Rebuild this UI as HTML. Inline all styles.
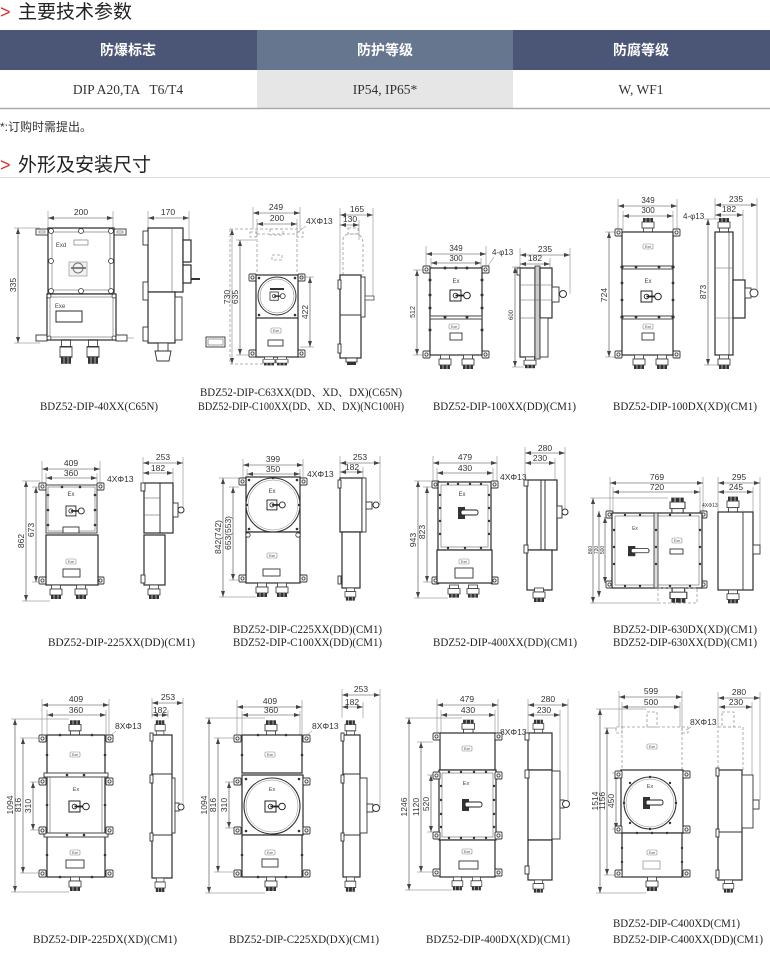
<!DOCTYPE html>
<html><head><meta charset="utf-8"><style>
html,body{margin:0;padding:0;background:#fff;width:770px;height:974px;overflow:hidden}
svg{display:block}
.o{fill:#fff;stroke:#2b2b2b;stroke-width:1.2}
.o1{fill:#fff;stroke:#333;stroke-width:.9}
.o2{fill:none;stroke:#666;stroke-width:.6}
.dl{stroke:#444;stroke-width:.6;fill:none;marker-start:url(#a);marker-end:url(#a)}
.el{stroke:#777;stroke-width:.5;fill:none}
.dsh{stroke:#9a9a9a;stroke-width:.8;stroke-dasharray:3 2;fill:none}
.t{font-family:"Liberation Sans",sans-serif;font-size:8.5px;fill:#333}
.tc{text-anchor:middle}
.sm{font-family:"Liberation Sans",sans-serif;font-size:5px;fill:#444;text-anchor:middle}
.cap{font-family:"Liberation Serif","Noto Serif CJK SC",serif;font-size:11.5px;fill:#222}
.bk{fill:#333}
.hd{font-family:"Liberation Sans","Noto Sans CJK SC",sans-serif;font-size:19px;fill:#222}
.th{font-family:"Liberation Sans","Noto Sans CJK SC",sans-serif;font-size:14px;font-weight:bold;fill:#fff;text-anchor:middle}
.td{font-family:"Liberation Serif",serif;font-size:13.5px;fill:#333;text-anchor:middle}
</style></head><body>
<svg width="770" height="974" viewBox="0 0 770 974" xmlns="http://www.w3.org/2000/svg">
<defs>
<marker id="a" markerUnits="userSpaceOnUse" markerWidth="6" markerHeight="4" refX="6" refY="2" orient="auto-start-reverse"><path d="M0,0 L6,2 L0,4z" fill="#444"/></marker>
<g id="ear"><rect x="0" y="0" width="7" height="7" rx="1" fill="#fff" stroke="#333" stroke-width=".9"/><circle cx="3.5" cy="3.5" r="1.6" fill="none" stroke="#333" stroke-width=".8"/></g>
<g id="gl"><rect x="1.5" y="0" width="9" height="4" fill="#fff" stroke="#333" stroke-width=".8"/><rect x="0" y="4" width="12" height="6" fill="#fff" stroke="#333" stroke-width=".8"/><rect x="1" y="10" width="10" height="4" fill="#333"/><line x1="4" y1="10" x2="4" y2="14" stroke="#fff" stroke-width=".6"/><line x1="8" y1="10" x2="8" y2="14" stroke="#fff" stroke-width=".6"/></g>
<g id="sw"><rect x="0" y="0" width="11" height="11" fill="#fff" stroke="#222" stroke-width="1"/><circle cx="5.5" cy="5.5" r="2.3" fill="none" stroke="#222" stroke-width=".9"/><line x1="5.5" y1="5.5" x2="15" y2="5.5" stroke="#222" stroke-width="1.8"/><circle cx="17" cy="5.5" r="3.3" fill="#fff" stroke="#222" stroke-width="1"/></g>
<g id="hd"><rect x="0" y="0" width="7" height="12" fill="#333"/><rect x="3" y="3" width="17" height="5" rx="2" fill="#fff" stroke="#222" stroke-width=".9"/></g>
<g id="lb"><rect x="0" y="0" width="10" height="5" rx="1" fill="#fff" stroke="#888" stroke-width=".6"/><text x="5" y="4" class="sm" style="font-size:3.5px">Exe</text></g>
</defs>

<!-- HEADINGS & TABLE -->
<text x="0" y="18" font-family="Liberation Sans,sans-serif" font-size="18" fill="#d9302a">&gt;</text>
<text x="18" y="18" class="hd">主要技术参数</text>
<rect x="0" y="30" width="257" height="40" fill="#4b5676"/>
<rect x="257" y="30" width="256" height="40" fill="#67768f"/>
<rect x="513" y="30" width="257" height="40" fill="#4b5676"/>
<text x="128" y="55" class="th">防爆标志</text>
<text x="385" y="55" class="th">防护等级</text>
<text x="641" y="55" class="th">防腐等级</text>
<rect x="257" y="70" width="256" height="38" fill="#e6e6e6"/>
<text x="128" y="94" class="td" xml:space="preserve">DIP A20,TA   T6/T4</text>
<text x="385" y="94" class="td">IP54, IP65*</text>
<text x="641" y="94" class="td">W, WF1</text>
<line x1="0" y1="108.5" x2="770" y2="108.5" stroke="#aaa" stroke-width="1.5"/>
<text x="0" y="131" font-family="Liberation Sans,'Noto Sans CJK SC',sans-serif" font-size="12" fill="#333">*:订购时需提出。</text>
<text x="0" y="171" font-family="Liberation Sans,sans-serif" font-size="18" fill="#d9302a">&gt;</text>
<text x="18" y="171" class="hd">外形及安装尺寸</text>
<line x1="0" y1="177.5" x2="770" y2="177.5" stroke="#ddd" stroke-width="1"/>

<!-- ============ D1 ============ -->
<line class="el" x1="48" y1="211" x2="48" y2="228"/><line class="el" x1="113" y1="211" x2="113" y2="228"/>
<line class="dl" x1="48" y1="218" x2="113" y2="218"/><text class="t tc" x="81" y="215">200</text>
<line class="el" x1="14" y1="228" x2="40" y2="228"/><line class="el" x1="14" y1="343" x2="40" y2="343"/>
<line class="dl" x1="18" y1="228" x2="18" y2="343"/><text class="t tc" transform="translate(16,285) rotate(-90)">335</text>
<rect class="o1" x="36" y="229" width="12" height="6"/><rect class="o2" x="39" y="231" width="6" height="2"/>
<rect class="o1" x="114" y="229" width="12" height="6"/><rect class="o2" x="117" y="231" width="6" height="2"/>
<rect class="o" x="48" y="228" width="66" height="66"/><rect class="o2" x="52" y="232" width="58" height="58"/>
<g fill="#fff" stroke="#333" stroke-width=".8"><circle cx="51" cy="231" r="2.5"/><circle cx="81" cy="231" r="2.5"/><circle cx="111" cy="231" r="2.5"/><circle cx="51" cy="261" r="2.5"/><circle cx="111" cy="261" r="2.5"/><circle cx="51" cy="291" r="2.5"/><circle cx="81" cy="291" r="2.5"/><circle cx="111" cy="291" r="2.5"/></g>
<text class="sm" x="61" y="247" style="font-size:6px">Exd</text><rect class="o2" x="74" y="240" width="14" height="5" stroke="#333"/>
<rect x="69" y="262" width="18" height="14" fill="#f2f2f2" stroke="#999" stroke-width=".7"/><circle cx="78" cy="268" r="5" fill="none" stroke="#777"/><line x1="71" y1="268" x2="86" y2="268" stroke="#666" stroke-width="1.6"/>
<rect class="o" x="47" y="294" width="69" height="46"/><rect class="o2" x="50" y="297" width="63" height="40"/>
<g fill="#fff" stroke="#333" stroke-width=".8"><circle cx="49" cy="296" r="2"/><circle cx="114" cy="296" r="2"/><circle cx="49" cy="338" r="2"/><circle cx="114" cy="338" r="2"/></g>
<text class="sm" x="60" y="308" style="font-size:6px">Exe</text><rect class="o" x="56" y="311" width="26" height="11" style="stroke-width:1"/>
<rect class="o1" x="36" y="335" width="11" height="6"/><rect class="o1" x="116" y="335" width="11" height="6"/>
<line class="el" x1="127" y1="338" x2="134" y2="338"/>
<use href="#gl" transform="translate(60,340) scale(1,1.7)"/><use href="#gl" transform="translate(87,340) scale(1,1.7)"/>
<!-- D1 side -->
<line class="el" x1="148" y1="211" x2="148" y2="228"/><line class="el" x1="189" y1="211" x2="189" y2="240"/>
<line class="dl" x1="148" y1="218" x2="189" y2="218"/><text class="t tc" x="168" y="215">170</text>
<rect class="o" x="148" y="228" width="35" height="64"/><line class="o2" x1="172" y1="228" x2="172" y2="292"/>
<rect class="o" x="148" y="292" width="27" height="51"/>
<rect class="o" x="183" y="240" width="8" height="22"/><rect class="o" x="183" y="265" width="8" height="18"/>
<line x1="191" y1="279" x2="200" y2="279" stroke="#333" stroke-width="2"/>
<rect class="o1" x="175" y="297" width="7" height="43"/>
<rect class="o1" x="143" y="231" width="5" height="14"/><rect class="o1" x="143" y="282" width="5" height="18"/><rect class="o1" x="143" y="327" width="5" height="14"/>
<rect class="o1" x="158" y="343" width="10" height="8"/><path d="M155,351 h16 l-2,10 h-12z" class="o1"/>
<text class="cap" x="40" y="410" textLength="118" lengthAdjust="spacingAndGlyphs">BDZ52-DIP-40XX(C65N)</text>

<!-- ============ D2 ============ -->
<line class="el" x1="253" y1="207" x2="253" y2="229"/><line class="el" x1="300" y1="207" x2="300" y2="229"/>
<line class="dl" x1="253" y1="213" x2="300" y2="213"/><text class="t tc" x="276" y="210">249</text>
<line class="el" x1="257" y1="219" x2="257" y2="234"/><line class="el" x1="297" y1="219" x2="297" y2="234"/>
<line class="dl" x1="257" y1="224" x2="297" y2="224"/><text class="t tc" x="277" y="221">200</text>
<text class="t" x="306" y="224">4XΦ13</text><line class="el" x1="298" y1="232" x2="306" y2="226"/>
<path class="dsh" d="M230,229 H302 M230,229 V364 H267 M257,234 V275 M297,234 V275 M257,234 H297"/>
<rect class="dsh" x="270" y="229" width="13" height="6"/><rect class="dsh" x="250" y="232" width="6" height="5"/><rect class="dsh" x="297" y="232" width="6" height="5"/>
<rect class="dsh" x="272" y="255" width="10" height="5"/>
<line class="dl" x1="232" y1="229" x2="232" y2="364" style="stroke:#888"/><text class="t tc" transform="translate(230,297) rotate(-90)">730</text>
<line class="el" x1="236" y1="240" x2="256" y2="240"/>
<line class="dl" x1="240" y1="240" x2="240" y2="355"/><text class="t tc" transform="translate(238,297) rotate(-90)">635</text>
<line class="el" x1="236" y1="355" x2="250" y2="355"/>
<use href="#ear" x="249" y="274"/><use href="#ear" x="298" y="274"/><use href="#ear" x="249" y="350"/><use href="#ear" x="298" y="350"/>
<rect class="o" x="256" y="275" width="42" height="82"/><line x1="256" y1="318" x2="298" y2="318" stroke="#333" stroke-width="1.2"/>
<circle cx="277" cy="296" r="19" fill="#fff" stroke="#333" stroke-width="1"/><circle cx="277" cy="296" r="17" fill="none" stroke="#777" stroke-width=".5"/>
<g class="bk"><circle cx="259" cy="278" r="1.3"/><circle cx="295" cy="278" r="1.3"/><circle cx="259" cy="315" r="1.3"/><circle cx="295" cy="315" r="1.3"/></g>
<rect x="270" y="288" width="14" height="2" fill="#333"/><use href="#sw" transform="translate(270,292) scale(.75)"/>
<use href="#lb" x="271" y="328"/><rect class="o1" x="268" y="340" width="15" height="6"/>
<use href="#gl" transform="translate(263,357) scale(1,.6)"/><use href="#gl" transform="translate(276,357) scale(1,.6)"/>
<line class="el" x1="300" y1="277" x2="314" y2="277"/><line class="el" x1="300" y1="347" x2="314" y2="347"/>
<line class="dl" x1="310" y1="277" x2="310" y2="347"/><text class="t tc" transform="translate(308,312) rotate(-90)">422</text>
<rect class="o1" x="206" y="337" width="19" height="10"/><rect class="o2" x="208" y="339" width="15" height="6"/>
<!-- D2 side -->
<line class="el" x1="340" y1="208" x2="340" y2="275"/><line class="el" x1="373" y1="208" x2="373" y2="298"/><line class="el" x1="359" y1="220" x2="359" y2="240"/>
<line class="dl" x1="340" y1="215" x2="373" y2="215"/><text class="t tc" x="357" y="212">165</text>
<line class="dl" x1="340" y1="225" x2="359" y2="225"/><text class="t tc" x="350" y="222">130</text>
<path class="dsh" d="M343,275 V240 Q343,234 350,234 H357 Q363,236 363,244 V275"/>
<rect class="dsh" x="348" y="228" width="10" height="6"/>
<rect class="o" x="340" y="275" width="21" height="83"/><line x1="340" y1="315" x2="361" y2="315" stroke="#333"/>
<rect class="o1" x="361" y="277" width="4" height="40"/><rect x="365" y="296" width="9" height="4" fill="#fff" stroke="#333" stroke-width=".7"/>
<rect class="o1" x="338" y="280" width="3" height="9"/><rect class="o1" x="338" y="344" width="3" height="9"/>
<rect class="o1" x="346" y="358" width="11" height="4"/><rect class="bk" x="347" y="362" width="9" height="3"/>
<text class="cap" x="301" y="396" text-anchor="middle" textLength="202" lengthAdjust="spacingAndGlyphs">BDZ52-DIP-C63XX(DD、XD、DX)(C65N)</text>
<text class="cap" x="301" y="410" text-anchor="middle" textLength="206" lengthAdjust="spacingAndGlyphs">BDZ52-DIP-C100XX(DD、XD、DX)(NC100H)</text>

<!-- ============ D3 ============ -->
<line class="el" x1="426" y1="246" x2="426" y2="268"/><line class="el" x1="486" y1="246" x2="486" y2="268"/>
<line class="dl" x1="426" y1="254" x2="486" y2="254"/><text class="t tc" x="456" y="251" style="font-size:8px">349</text>
<line class="el" x1="431" y1="258" x2="431" y2="268"/><line class="el" x1="481" y1="258" x2="481" y2="268"/>
<line class="dl" x1="431" y1="263" x2="481" y2="263"/><text class="t tc" x="456" y="261" style="font-size:8px">300</text>
<text class="t" x="492" y="255" style="font-size:8px">4-φ13</text><line class="el" x1="488" y1="266" x2="494" y2="257"/>
<line class="el" x1="413" y1="270" x2="423" y2="270"/><line class="el" x1="413" y1="355" x2="430" y2="355"/>
<line class="dl" x1="417" y1="270" x2="417" y2="355"/><text class="t tc" transform="translate(415,312) rotate(-90)" style="font-size:7px">512</text>
<use href="#ear" x="423" y="266"/><use href="#ear" x="482" y="266"/><use href="#ear" x="423" y="351"/><use href="#ear" x="482" y="351"/>
<rect class="o" x="430" y="268" width="52" height="87"/><rect x="430" y="316" width="52" height="3" fill="#fff" stroke="#333" stroke-width=".9"/>
<g class="bk"><circle cx="430" cy="280" r="1.5"/><circle cx="430" cy="295" r="1.5"/><circle cx="430" cy="308" r="1.5"/><circle cx="482" cy="280" r="1.5"/><circle cx="482" cy="295" r="1.5"/><circle cx="482" cy="308" r="1.5"/><circle cx="445" cy="268" r="1.5"/><circle cx="456" cy="268" r="1.5"/><circle cx="467" cy="268" r="1.5"/><circle cx="445" cy="317" r="1.5"/><circle cx="467" cy="317" r="1.5"/><circle cx="430" cy="330" r="1.5"/><circle cx="482" cy="330" r="1.5"/></g>
<text class="sm" x="456" y="283" style="font-size:6px">Ex</text>
<use href="#sw" x="450" y="290"/>
<use href="#lb" x="449" y="324"/><rect class="o1" x="450" y="333" width="12" height="7"/>
<use href="#gl" x="439" y="355"/><use href="#gl" x="462" y="355"/>
<!-- D3 side -->
<line class="el" x1="520" y1="248" x2="520" y2="268"/><line class="el" x1="570" y1="248" x2="570" y2="294"/><line class="el" x1="550" y1="258" x2="550" y2="268"/>
<line class="dl" x1="520" y1="255" x2="570" y2="255"/><text class="t tc" x="545" y="252">235</text>
<line class="dl" x1="520" y1="264" x2="550" y2="264"/><text class="t tc" x="535" y="261">182</text>
<line class="el" x1="512" y1="267" x2="520" y2="267"/><line class="el" x1="512" y1="367" x2="524" y2="367"/>
<line class="dl" x1="515" y1="267" x2="515" y2="367"/><text class="t tc" transform="translate(513,315) rotate(-90)" style="font-size:6px">600</text>
<rect class="o" x="520" y="268" width="15" height="89"/><rect x="535" y="266" width="5" height="93" fill="#ccc" stroke="#333" stroke-width=".8"/>
<rect class="o" x="540" y="268" width="12" height="50"/><rect class="o1" x="540" y="318" width="8" height="39"/>
<line class="o2" x1="520" y1="285" x2="552" y2="285"/><line class="o2" x1="520" y1="300" x2="552" y2="300"/><line class="o2" x1="520" y1="318" x2="535" y2="318"/>
<rect class="o1" x="552" y="287" width="7" height="15"/><circle cx="563" cy="294" r="3.5" fill="#fff" stroke="#333"/>
<rect class="o1" x="517" y="268" width="3" height="7"/>
<use href="#gl" transform="translate(524,357) scale(1,.8)"/>
<text class="cap" x="433" y="410" textLength="143" lengthAdjust="spacingAndGlyphs">BDZ52-DIP-100XX(DD)(CM1)</text>

<!-- ============ D4 ============ -->
<line class="el" x1="618" y1="199" x2="618" y2="230"/><line class="el" x1="677" y1="199" x2="677" y2="230"/>
<line class="dl" x1="618" y1="206" x2="677" y2="206"/><text class="t tc" x="648" y="203" style="font-size:8px">349</text>
<line class="el" x1="623" y1="211" x2="623" y2="230"/><line class="el" x1="673" y1="211" x2="673" y2="230"/>
<line class="dl" x1="623" y1="216" x2="673" y2="216"/><text class="t tc" x="648" y="213" style="font-size:8px">300</text>
<text class="t" x="683" y="219" style="font-size:8px">4-φ13</text>
<use href="#gl" transform="translate(642,232) scale(1,-1)"/>
<line class="el" x1="605" y1="232" x2="615" y2="232"/><line class="el" x1="605" y1="357" x2="615" y2="357"/>
<line class="dl" x1="609" y1="232" x2="609" y2="357"/><text class="t tc" transform="translate(607,295) rotate(-90)">724</text>
<use href="#ear" x="615" y="229"/><use href="#ear" x="673" y="229"/><use href="#ear" x="615" y="351"/><use href="#ear" x="673" y="351"/>
<rect class="o" x="622" y="232" width="51" height="123"/>
<rect x="622" y="266" width="51" height="3" fill="#fff" stroke="#333" stroke-width=".9"/><rect x="622" y="316" width="51" height="3" fill="#fff" stroke="#333" stroke-width=".9"/>
<g class="bk"><circle cx="622" cy="267" r="1.6"/><circle cx="673" cy="267" r="1.6"/><circle cx="622" cy="317" r="1.6"/><circle cx="673" cy="317" r="1.6"/><circle cx="622" cy="283" r="1.4"/><circle cx="673" cy="283" r="1.4"/><circle cx="622" cy="300" r="1.4"/><circle cx="673" cy="300" r="1.4"/><circle cx="636" cy="267" r="1.4"/><circle cx="659" cy="267" r="1.4"/><circle cx="636" cy="317" r="1.4"/><circle cx="659" cy="317" r="1.4"/></g>
<use href="#lb" x="643" y="244"/>
<text class="sm" x="648" y="283" style="font-size:6px">Ex</text>
<use href="#sw" x="641" y="291"/>
<use href="#lb" x="643" y="324"/><rect class="o1" x="642" y="333" width="12" height="7"/>
<use href="#gl" x="633" y="355"/><use href="#gl" x="656" y="355"/>
<!-- D4 side -->
<line class="el" x1="715" y1="198" x2="715" y2="219"/><line class="el" x1="757" y1="198" x2="757" y2="290"/><line class="el" x1="743" y1="210" x2="743" y2="280"/>
<line class="dl" x1="715" y1="205" x2="757" y2="205"/><text class="t tc" x="736" y="202">235</text>
<line class="dl" x1="715" y1="215" x2="743" y2="215"/><text class="t tc" x="729" y="212">182</text>
<line class="el" x1="704" y1="219" x2="720" y2="219"/><line class="el" x1="704" y1="365" x2="720" y2="365"/>
<line class="dl" x1="708" y1="219" x2="708" y2="365"/><text class="t tc" transform="translate(706,292) rotate(-90)">873</text>
<use href="#gl" transform="translate(718,232) scale(1,-1)"/>
<rect class="o" x="715" y="232" width="18" height="123"/><line class="o2" x1="729" y1="232" x2="729" y2="355" style="stroke:#333"/>
<line class="o2" x1="715" y1="268" x2="733" y2="268"/><line class="o2" x1="715" y1="318" x2="733" y2="318"/>
<rect class="o" x="733" y="280" width="12" height="38"/><rect class="o1" x="745" y="288" width="6" height="10"/><circle cx="754" cy="293" r="4" fill="#fff" stroke="#333"/>
<use href="#gl" x="718" y="355"/>
<text class="cap" x="613" y="410" textLength="144" lengthAdjust="spacingAndGlyphs">BDZ52-DIP-100DX(XD)(CM1)</text>

<!-- ============ D5 ============ -->
<line class="el" x1="42" y1="461" x2="42" y2="483"/><line class="el" x1="100" y1="461" x2="100" y2="483"/>
<line class="dl" x1="42" y1="469" x2="100" y2="469"/><text class="t tc" x="71" y="466">409</text>
<line class="el" x1="46" y1="473" x2="46" y2="485"/><line class="el" x1="97" y1="473" x2="97" y2="485"/>
<line class="dl" x1="46" y1="478" x2="97" y2="478"/><text class="t tc" x="71" y="476">360</text>
<text class="t" x="107" y="482">4XΦ13</text>
<line class="el" x1="22" y1="481" x2="40" y2="481"/><line class="el" x1="22" y1="601" x2="50" y2="601"/>
<line class="dl" x1="26" y1="481" x2="26" y2="601"/><text class="t tc" transform="translate(24,541) rotate(-90)">862</text>
<line class="el" x1="32" y1="487" x2="40" y2="487"/><line class="el" x1="32" y1="582" x2="40" y2="582"/>
<line class="dl" x1="36" y1="487" x2="36" y2="582"/><text class="t tc" transform="translate(34,530) rotate(-90)">673</text>
<use href="#ear" x="39" y="483"/><use href="#ear" x="97" y="483"/><use href="#ear" x="39" y="577"/><use href="#ear" x="97" y="577"/>
<rect class="o1" x="46" y="485" width="51" height="48"/><rect class="o2" x="48" y="487" width="47" height="44"/>
<g class="bk"><circle cx="48" cy="495" r="1.3"/><circle cx="48" cy="510" r="1.3"/><circle cx="48" cy="525" r="1.3"/><circle cx="95" cy="495" r="1.3"/><circle cx="95" cy="510" r="1.3"/><circle cx="95" cy="525" r="1.3"/><circle cx="62" cy="487" r="1.3"/><circle cx="80" cy="487" r="1.3"/></g>
<rect class="o1" x="63" y="527" width="16" height="6"/>
<text class="sm" x="71" y="496" style="font-size:6px">Ex</text>
<use href="#sw" transform="translate(66,506) scale(.9)"/>
<rect class="o" x="46" y="535" width="52" height="50"/>
<use href="#lb" x="66" y="559"/><rect class="o1" x="63" y="569" width="17" height="8"/>
<use href="#gl" x="50" y="585"/><use href="#gl" x="75" y="585"/>
<!-- D5 side -->
<line class="el" x1="143" y1="457" x2="143" y2="483"/><line class="el" x1="183" y1="457" x2="183" y2="510"/><line class="el" x1="173" y1="468" x2="173" y2="483"/>
<line class="dl" x1="143" y1="463" x2="183" y2="463"/><text class="t tc" x="163" y="460">253</text>
<line class="dl" x1="143" y1="473" x2="173" y2="473"/><text class="t tc" x="158" y="471">182</text>
<rect class="o" x="144" y="483" width="29" height="50"/><line x1="160" y1="483" x2="160" y2="533" stroke="#333" stroke-width="1"/>
<line class="o2" x1="144" y1="498" x2="160" y2="498"/><line class="o2" x1="144" y1="515" x2="160" y2="515"/>
<rect class="o" x="144" y="535" width="21" height="50"/>
<rect class="o1" x="173" y="503" width="5" height="14"/><circle cx="181" cy="510" r="3" fill="#fff" stroke="#333"/>
<rect class="o1" x="141" y="483" width="4" height="8"/><rect class="o1" x="141" y="575" width="4" height="8"/>
<use href="#gl" x="148" y="585"/>
<text class="cap" x="48" y="646" textLength="147" lengthAdjust="spacingAndGlyphs">BDZ52-DIP-225XX(DD)(CM1)</text>

<!-- ============ D6 ============ -->
<line class="el" x1="243" y1="459" x2="243" y2="478"/><line class="el" x1="303" y1="459" x2="303" y2="478"/>
<line class="dl" x1="243" y1="465" x2="303" y2="465"/><text class="t tc" x="273" y="462">399</text>
<line class="el" x1="247" y1="469" x2="247" y2="477"/><line class="el" x1="300" y1="469" x2="300" y2="477"/>
<line class="dl" x1="247" y1="474" x2="300" y2="474"/><text class="t tc" x="273" y="472">350</text>
<text class="t" x="307" y="477">4XΦ13</text>
<line class="el" x1="219" y1="478" x2="239" y2="478"/><line class="el" x1="219" y1="597" x2="256" y2="597"/>
<line class="dl" x1="223" y1="478" x2="223" y2="597"/><text class="t tc" transform="translate(221,537) rotate(-90)">842(742)</text>
<line class="el" x1="229" y1="487" x2="239" y2="487"/><line class="el" x1="229" y1="580" x2="239" y2="580"/>
<line class="dl" x1="233" y1="487" x2="233" y2="580"/><text class="t tc" transform="translate(231,533) rotate(-90)">653(553)</text>
<use href="#ear" x="239" y="478"/><use href="#ear" x="300" y="478"/><use href="#ear" x="239" y="575"/><use href="#ear" x="300" y="575"/>
<rect class="o" x="246" y="477" width="54" height="55"/>
<circle cx="273" cy="505" r="27" fill="#fff" stroke="#333" stroke-width="1.1"/><circle cx="273" cy="505" r="25" fill="none" stroke="#888" stroke-width=".5"/>
<g class="bk"><circle cx="249" cy="480" r="1.3"/><circle cx="297" cy="480" r="1.3"/><circle cx="249" cy="529" r="1.3"/><circle cx="297" cy="529" r="1.3"/><circle cx="273" cy="478" r="1.2"/><circle cx="247" cy="505" r="1.2"/><circle cx="299" cy="505" r="1.2"/></g>
<text class="sm" x="272" y="493" style="font-size:6px">Ex</text>
<use href="#sw" transform="translate(267,500) scale(.9)"/>
<rect class="o" x="246" y="532" width="54" height="51"/>
<g fill="#fff" stroke="#333" stroke-width=".8"><circle cx="248" cy="535" r="2.2"/><circle cx="298" cy="535" r="2.2"/></g>
<use href="#lb" x="267" y="553"/><rect class="o1" x="263" y="569" width="17" height="7"/>
<use href="#gl" x="256" y="583"/><use href="#gl" x="276" y="583"/>
<!-- D6 side -->
<line class="el" x1="340" y1="456" x2="340" y2="478"/><line class="el" x1="380" y1="456" x2="380" y2="505"/><line class="el" x1="363" y1="467" x2="363" y2="478"/>
<line class="dl" x1="340" y1="463" x2="380" y2="463"/><text class="t tc" x="360" y="460">253</text>
<line class="dl" x1="340" y1="472" x2="363" y2="472"/><text class="t tc" x="352" y="470">182</text>
<rect class="o" x="340" y="478" width="22" height="54"/><rect class="o1" x="362" y="478" width="4" height="54"/>
<rect class="o1" x="366" y="502" width="6" height="7"/><circle cx="376" cy="505" r="3" fill="#fff" stroke="#333"/>
<rect class="o" x="342" y="532" width="18" height="56"/>
<rect class="o1" x="338" y="480" width="3" height="8"/><rect class="o1" x="338" y="576" width="3" height="8"/>
<use href="#gl" transform="translate(345,588) scale(.9,.9)"/>
<text class="cap" x="233" y="633" textLength="149" lengthAdjust="spacingAndGlyphs">BDZ52-DIP-C225XX(DD)(CM1)</text>
<text class="cap" x="233" y="646" textLength="149" lengthAdjust="spacingAndGlyphs">BDZ52-DIP-C100XX(DD)(CM1)</text>

<!-- ============ D7 ============ -->
<line class="el" x1="433" y1="456" x2="433" y2="482"/><line class="el" x1="497" y1="456" x2="497" y2="482"/>
<line class="dl" x1="433" y1="463" x2="497" y2="463"/><text class="t tc" x="465" y="460">479</text>
<line class="el" x1="437" y1="468" x2="437" y2="482"/><line class="el" x1="493" y1="468" x2="493" y2="482"/>
<line class="dl" x1="437" y1="473" x2="493" y2="473"/><text class="t tc" x="465" y="471">430</text>
<text class="t" x="500" y="480">4XΦ13</text>
<line class="el" x1="414" y1="481" x2="432" y2="481"/><line class="el" x1="414" y1="598" x2="448" y2="598"/>
<line class="dl" x1="418" y1="481" x2="418" y2="598"/><text class="t tc" transform="translate(416,540) rotate(-90)">943</text>
<line class="el" x1="423" y1="487" x2="432" y2="487"/><line class="el" x1="423" y1="582" x2="432" y2="582"/>
<line class="dl" x1="427" y1="487" x2="427" y2="582"/><text class="t tc" transform="translate(425,532) rotate(-90)">823</text>
<use href="#ear" x="432" y="481"/><use href="#ear" x="491" y="481"/><use href="#ear" x="432" y="577"/><use href="#ear" x="491" y="577"/>
<rect class="o" x="438" y="482" width="53" height="68"/><rect class="o2" x="441" y="485" width="47" height="62"/>
<g class="bk"><circle cx="448" cy="484" r="1.2"/><circle cx="458" cy="484" r="1.2"/><circle cx="470" cy="484" r="1.2"/><circle cx="481" cy="484" r="1.2"/><circle cx="440" cy="495" r="1.2"/><circle cx="440" cy="508" r="1.2"/><circle cx="440" cy="521" r="1.2"/><circle cx="440" cy="534" r="1.2"/><circle cx="489" cy="495" r="1.2"/><circle cx="489" cy="508" r="1.2"/><circle cx="489" cy="521" r="1.2"/><circle cx="489" cy="534" r="1.2"/><circle cx="448" cy="548" r="1.2"/><circle cx="465" cy="548" r="1.2"/><circle cx="481" cy="548" r="1.2"/></g>
<text class="sm" x="462" y="496" style="font-size:6px">Ex</text>
<use href="#hd" x="458" y="507"/>
<rect class="o" x="437" y="550" width="55" height="33"/>
<use href="#lb" x="459" y="559"/><rect class="o1" x="455" y="568" width="18" height="10"/>
<use href="#gl" transform="translate(448,585) scale(1,.9)"/><use href="#gl" transform="translate(467,585) scale(1,.9)"/>
<!-- D7 side -->
<line class="el" x1="525" y1="447" x2="525" y2="480"/><line class="el" x1="565" y1="447" x2="565" y2="510"/><line class="el" x1="555" y1="458" x2="555" y2="482"/>
<line class="dl" x1="525" y1="453" x2="565" y2="453"/><text class="t tc" x="545" y="451">280</text>
<line class="dl" x1="525" y1="463" x2="555" y2="463"/><text class="t tc" x="540" y="461">230</text>
<rect class="o" x="527" y="480" width="30" height="70"/><line x1="541" y1="480" x2="541" y2="550" stroke="#333"/><line x1="545" y1="480" x2="545" y2="550" stroke="#333"/>
<rect class="o1" x="557" y="506" width="5" height="12"/><circle cx="565" cy="512" r="3" fill="#fff" stroke="#333"/>
<rect class="o" x="527" y="550" width="25" height="40"/>
<rect class="o1" x="524" y="480" width="4" height="6"/><rect class="o1" x="524" y="545" width="4" height="8"/>
<use href="#gl" x="533" y="588"/>
<text class="cap" x="433" y="646" textLength="144" lengthAdjust="spacingAndGlyphs">BDZ52-DIP-400XX(DD)(CM1)</text>

<!-- ============ D8 ============ -->
<line class="el" x1="610" y1="477" x2="610" y2="512"/><line class="el" x1="703" y1="477" x2="703" y2="512"/>
<line class="dl" x1="610" y1="483" x2="703" y2="483"/><text class="t tc" x="657" y="480">769</text>
<line class="el" x1="613" y1="487" x2="613" y2="512"/><line class="el" x1="700" y1="487" x2="700" y2="512"/>
<line class="dl" x1="613" y1="492" x2="700" y2="492"/><text class="t tc" x="657" y="490">720</text>
<text class="t" x="702" y="507" style="font-size:5px">4XΦ13</text>
<use href="#gl" transform="translate(670,513) scale(1.25,-1.1)"/>
<line class="el" x1="590" y1="498" x2="668" y2="498"/><line class="el" x1="590" y1="603" x2="658" y2="603"/>
<line class="dl" x1="593" y1="498" x2="593" y2="603"/><text class="t tc" transform="translate(592,550) rotate(-90)" style="font-size:5px">860</text>
<line class="dl" x1="599" y1="511" x2="599" y2="597"/><text class="t tc" transform="translate(598,550) rotate(-90)" style="font-size:5px">720</text>
<line class="dl" x1="605" y1="517" x2="605" y2="583"/><text class="t tc" transform="translate(604,550) rotate(-90)" style="font-size:5px">500</text>
<use href="#ear" x="606" y="511"/><use href="#ear" x="700" y="511"/><use href="#ear" x="606" y="581"/><use href="#ear" x="700" y="581"/>
<rect class="o" x="612" y="513" width="90" height="75"/><rect class="o2" x="615" y="516" width="84" height="69"/>
<rect x="654" y="513" width="4" height="75" fill="#ddd" stroke="#333" stroke-width=".8"/>
<g class="bk"><circle cx="614" cy="530" r="1.2"/><circle cx="614" cy="547" r="1.2"/><circle cx="614" cy="564" r="1.2"/><circle cx="700" cy="530" r="1.2"/><circle cx="700" cy="547" r="1.2"/><circle cx="700" cy="564" r="1.2"/><circle cx="625" cy="515" r="1.2"/><circle cx="640" cy="515" r="1.2"/><circle cx="670" cy="515" r="1.2"/><circle cx="690" cy="515" r="1.2"/><circle cx="625" cy="586" r="1.2"/><circle cx="640" cy="586" r="1.2"/><circle cx="670" cy="586" r="1.2"/><circle cx="690" cy="586" r="1.2"/><circle cx="656" cy="530" r="1.2"/><circle cx="656" cy="547" r="1.2"/><circle cx="656" cy="564" r="1.2"/></g>
<text class="sm" x="635" y="530" style="font-size:5px">Ex</text>
<use href="#hd" transform="translate(628,546) scale(1.05,.85)"/>
<use href="#lb" x="672" y="538"/><rect class="o1" x="670" y="549" width="13" height="5"/>
<rect class="dsh" x="658" y="588" width="39" height="15"/><use href="#gl" transform="translate(670,588) scale(1.4,1.05)"/>
<!-- D8 side -->
<line class="el" x1="718" y1="477" x2="718" y2="512"/><line class="el" x1="760" y1="477" x2="760" y2="545"/><line class="el" x1="753" y1="487" x2="753" y2="512"/>
<line class="dl" x1="718" y1="483" x2="760" y2="483"/><text class="t tc" x="739" y="480">295</text>
<line class="dl" x1="718" y1="492" x2="753" y2="492"/><text class="t tc" x="736" y="490">245</text>
<use href="#gl" transform="translate(727,512) scale(1,-1.1)"/>
<rect class="o" x="718" y="512" width="35" height="78"/><line x1="743" y1="512" x2="743" y2="590" stroke="#444"/>
<rect class="o1" x="753" y="545" width="7" height="9"/>
<use href="#gl" transform="translate(727,590) scale(1,.95)"/>
<text class="cap" x="613" y="633" textLength="144" lengthAdjust="spacingAndGlyphs">BDZ52-DIP-630DX(XD)(CM1)</text>
<text class="cap" x="613" y="646" textLength="144" lengthAdjust="spacingAndGlyphs">BDZ52-DIP-630XX(DD)(CM1)</text>

<!-- ============ D9 ============ -->
<line class="el" x1="42" y1="699" x2="42" y2="735"/><line class="el" x1="109" y1="699" x2="109" y2="735"/>
<line class="dl" x1="42" y1="705" x2="109" y2="705"/><text class="t tc" x="76" y="702">409</text>
<line class="el" x1="47" y1="710" x2="47" y2="735"/><line class="el" x1="106" y1="710" x2="106" y2="735"/>
<line class="dl" x1="47" y1="715" x2="106" y2="715"/><text class="t tc" x="76" y="713">360</text>
<text class="t" x="115" y="729">8XΦ13</text><line class="el" x1="110" y1="736" x2="116" y2="731"/>
<line class="el" x1="11" y1="719" x2="69" y2="719"/><line class="el" x1="11" y1="892" x2="69" y2="892"/>
<line class="dl" x1="15" y1="719" x2="15" y2="892"/><text class="t tc" transform="translate(13,805) rotate(-90)">1094</text>
<line class="el" x1="20" y1="738" x2="40" y2="738"/><line class="el" x1="20" y1="873" x2="40" y2="873"/>
<line class="dl" x1="23" y1="738" x2="23" y2="873"/><text class="t tc" transform="translate(21,805) rotate(-90)">816</text>
<line class="el" x1="30" y1="782" x2="40" y2="782"/><line class="el" x1="30" y1="830" x2="40" y2="830"/>
<line class="dl" x1="33" y1="782" x2="33" y2="830"/><text class="t tc" transform="translate(31,806) rotate(-90)">310</text>
<use href="#gl" transform="translate(69,735) scale(1,-1.05)"/>
<rect class="o" x="47" y="735" width="58" height="142"/>
<rect x="44" y="773" width="64" height="4" fill="#fff" stroke="#333" stroke-width=".9"/><rect x="44" y="833" width="64" height="4" fill="#fff" stroke="#333" stroke-width=".9"/>
<line class="o2" x1="50" y1="777" x2="50" y2="833"/><line class="o2" x1="102" y1="777" x2="102" y2="833"/>
<g class="bk"><circle cx="47" cy="755" r="1.3"/><circle cx="105" cy="755" r="1.3"/><circle cx="47" cy="805" r="1.3"/><circle cx="105" cy="805" r="1.3"/><circle cx="47" cy="855" r="1.3"/><circle cx="105" cy="855" r="1.3"/><circle cx="67" cy="775" r="1.3"/><circle cx="84" cy="775" r="1.3"/><circle cx="67" cy="835" r="1.3"/><circle cx="84" cy="835" r="1.3"/><circle cx="60" cy="735" r="1.3"/><circle cx="92" cy="735" r="1.3"/><circle cx="60" cy="877" r="1.3"/><circle cx="92" cy="877" r="1.3"/></g>
<use href="#ear" x="39" y="735"/><use href="#ear" x="106" y="735"/><use href="#ear" x="39" y="778"/><use href="#ear" x="106" y="778"/><use href="#ear" x="39" y="827"/><use href="#ear" x="106" y="827"/><use href="#ear" x="39" y="870"/><use href="#ear" x="106" y="870"/>
<use href="#lb" x="70" y="752"/>
<text class="sm" x="76" y="791" style="font-size:5.5px">Ex</text>
<use href="#sw" x="69" y="801"/>
<use href="#lb" x="70" y="850"/><rect class="o1" x="66" y="860" width="18" height="8"/>
<use href="#gl" x="69" y="877"/>
<!-- D9 side -->
<line class="el" x1="152" y1="698" x2="152" y2="718"/><line class="el" x1="183" y1="698" x2="183" y2="807"/><line class="el" x1="168" y1="710" x2="168" y2="718"/>
<line class="dl" x1="152" y1="703" x2="183" y2="703"/><text class="t tc" x="168" y="700">253</text>
<line class="dl" x1="152" y1="715" x2="168" y2="715"/><text class="t tc" x="160" y="713">182</text>
<use href="#gl" transform="translate(155,735) scale(.85,-1.05)"/>
<rect class="o" x="152" y="735" width="20" height="143"/>
<line x1="152" y1="774" x2="172" y2="774" stroke="#333"/><line x1="152" y1="835" x2="172" y2="835" stroke="#333"/>
<rect class="o1" x="172" y="778" width="3" height="55"/><rect class="o1" x="175" y="803" width="4" height="8"/><circle cx="181" cy="807" r="3" fill="#fff" stroke="#333"/>
<rect class="o1" x="150" y="733" width="3" height="8"/><rect class="o1" x="150" y="775" width="3" height="8"/><rect class="o1" x="150" y="833" width="3" height="8"/>
<use href="#gl" transform="translate(155,878) scale(.85,1)"/>
<text class="cap" x="33" y="943" textLength="144" lengthAdjust="spacingAndGlyphs">BDZ52-DIP-225DX(XD)(CM1)</text>

<!-- ============ D10 ============ -->
<line class="el" x1="237" y1="700" x2="237" y2="735"/><line class="el" x1="302" y1="700" x2="302" y2="735"/>
<line class="dl" x1="237" y1="707" x2="302" y2="707"/><text class="t tc" x="270" y="704">409</text>
<line class="el" x1="242" y1="711" x2="242" y2="735"/><line class="el" x1="300" y1="711" x2="300" y2="735"/>
<line class="dl" x1="242" y1="715" x2="300" y2="715"/><text class="t tc" x="271" y="713">360</text>
<text class="t" x="312" y="729">8XΦ13</text><line class="el" x1="306" y1="736" x2="312" y2="731"/>
<line class="el" x1="205" y1="718" x2="265" y2="718"/><line class="el" x1="205" y1="893" x2="265" y2="893"/>
<line class="dl" x1="209" y1="718" x2="209" y2="893"/><text class="t tc" transform="translate(207,805) rotate(-90)">1094</text>
<line class="el" x1="214" y1="738" x2="234" y2="738"/><line class="el" x1="214" y1="872" x2="234" y2="872"/>
<line class="dl" x1="218" y1="738" x2="218" y2="872"/><text class="t tc" transform="translate(216,805) rotate(-90)">816</text>
<line class="el" x1="225" y1="782" x2="234" y2="782"/><line class="el" x1="225" y1="828" x2="234" y2="828"/>
<line class="dl" x1="229" y1="782" x2="229" y2="828"/><text class="t tc" transform="translate(227,805) rotate(-90)">310</text>
<use href="#gl" transform="translate(265,735) scale(1,-1.05)"/>
<rect class="o" x="242" y="735" width="60" height="38"/>
<rect class="o" x="242" y="775" width="61" height="60"/>
<circle cx="272" cy="806" r="28" fill="#fff" stroke="#333" stroke-width="1.1"/><circle cx="272" cy="806" r="26" fill="none" stroke="#888" stroke-width=".5"/>
<rect class="o" x="242" y="835" width="60" height="42"/>
<g class="bk"><circle cx="242" cy="755" r="1.3"/><circle cx="302" cy="755" r="1.3"/><circle cx="242" cy="855" r="1.3"/><circle cx="302" cy="855" r="1.3"/><circle cx="258" cy="735" r="1.3"/><circle cx="286" cy="735" r="1.3"/><circle cx="258" cy="877" r="1.3"/><circle cx="286" cy="877" r="1.3"/><circle cx="246" cy="779" r="1.3"/><circle cx="299" cy="779" r="1.3"/><circle cx="246" cy="831" r="1.3"/><circle cx="299" cy="831" r="1.3"/></g>
<use href="#ear" x="234" y="735"/><use href="#ear" x="303" y="735"/><use href="#ear" x="234" y="778"/><use href="#ear" x="303" y="778"/><use href="#ear" x="234" y="827"/><use href="#ear" x="303" y="827"/><use href="#ear" x="234" y="870"/><use href="#ear" x="303" y="870"/>
<use href="#lb" x="265" y="752"/>
<text class="sm" x="272" y="791" style="font-size:5.5px">Ex</text>
<use href="#sw" x="265" y="801"/>
<use href="#lb" x="265" y="850"/><rect class="o1" x="262" y="859" width="16" height="8"/>
<use href="#gl" x="265" y="877"/>
<!-- D10 side -->
<line class="el" x1="342" y1="689" x2="342" y2="718"/><line class="el" x1="380" y1="689" x2="380" y2="808"/><line class="el" x1="363" y1="702" x2="363" y2="718"/>
<line class="dl" x1="342" y1="695" x2="380" y2="695"/><text class="t tc" x="361" y="692">253</text>
<line class="dl" x1="342" y1="707" x2="363" y2="707"/><text class="t tc" x="352" y="705">182</text>
<use href="#gl" transform="translate(345,735) scale(.9,-1.05)"/>
<rect class="o" x="343" y="735" width="17" height="142"/>
<line x1="343" y1="774" x2="360" y2="774" stroke="#333"/><line x1="343" y1="835" x2="360" y2="835" stroke="#333"/>
<rect class="o1" x="360" y="778" width="7" height="55"/><rect class="o1" x="367" y="804" width="6" height="8"/><circle cx="376" cy="808" r="3.5" fill="#fff" stroke="#333"/>
<rect class="o1" x="341" y="733" width="3" height="8"/><rect class="o1" x="341" y="775" width="3" height="8"/><rect class="o1" x="341" y="833" width="3" height="8"/>
<use href="#gl" transform="translate(345,877) scale(.9,1.05)"/>
<text class="cap" x="229" y="943" textLength="150" lengthAdjust="spacingAndGlyphs">BDZ52-DIP-C225XD(DX)(CM1)</text>

<!-- ============ D11 ============ -->
<line class="el" x1="437" y1="699" x2="437" y2="733"/><line class="el" x1="498" y1="699" x2="498" y2="733"/>
<line class="dl" x1="437" y1="705" x2="498" y2="705"/><text class="t tc" x="467" y="702">479</text>
<line class="el" x1="441" y1="710" x2="441" y2="733"/><line class="el" x1="495" y1="710" x2="495" y2="733"/>
<line class="dl" x1="441" y1="715" x2="495" y2="715"/><text class="t tc" x="468" y="713">430</text>
<text class="t" x="500" y="735">8XΦ13</text>
<line class="el" x1="405" y1="718" x2="462" y2="718"/><line class="el" x1="405" y1="890" x2="452" y2="890"/>
<line class="dl" x1="409" y1="718" x2="409" y2="890"/><text class="t tc" transform="translate(407,807) rotate(-90)">1246</text>
<line class="el" x1="417" y1="742" x2="433" y2="742"/><line class="el" x1="417" y1="872" x2="433" y2="872"/>
<line class="dl" x1="421" y1="742" x2="421" y2="872"/><text class="t tc" transform="translate(419,807) rotate(-90)">1120</text>
<line class="el" x1="427" y1="775" x2="433" y2="775"/><line class="el" x1="427" y1="832" x2="433" y2="832"/>
<line class="dl" x1="431" y1="775" x2="431" y2="832"/><text class="t tc" transform="translate(429,804) rotate(-90)">520</text>
<use href="#gl" transform="translate(462,733) scale(1.05,-0.95)"/>
<rect class="o" x="440" y="733" width="55" height="37"/>
<rect class="o" x="439" y="770" width="57" height="70"/><rect class="o2" x="442" y="773" width="51" height="64"/>
<rect class="o" x="440" y="840" width="55" height="37"/>
<g class="bk"><circle cx="449" cy="772" r="1.2"/><circle cx="461" cy="772" r="1.2"/><circle cx="474" cy="772" r="1.2"/><circle cx="486" cy="772" r="1.2"/><circle cx="441" cy="786" r="1.2"/><circle cx="441" cy="800" r="1.2"/><circle cx="441" cy="814" r="1.2"/><circle cx="441" cy="827" r="1.2"/><circle cx="494" cy="786" r="1.2"/><circle cx="494" cy="800" r="1.2"/><circle cx="494" cy="814" r="1.2"/><circle cx="494" cy="827" r="1.2"/><circle cx="449" cy="838" r="1.2"/><circle cx="461" cy="838" r="1.2"/><circle cx="474" cy="838" r="1.2"/><circle cx="486" cy="838" r="1.2"/></g>
<use href="#ear" x="433" y="733"/><use href="#ear" x="495" y="733"/><use href="#ear" x="433" y="772"/><use href="#ear" x="495" y="772"/><use href="#ear" x="433" y="832"/><use href="#ear" x="495" y="832"/><use href="#ear" x="433" y="869"/><use href="#ear" x="495" y="869"/>
<use href="#lb" x="462" y="746"/>
<text class="sm" x="466" y="785" style="font-size:5.5px">Ex</text>
<use href="#hd" x="462" y="799"/>
<use href="#lb" x="462" y="849"/><rect class="o1" x="459" y="861" width="19" height="8"/>
<use href="#gl" transform="translate(452,877) scale(.9,.95)"/><use href="#gl" transform="translate(471,877) scale(.9,.95)"/>
<!-- D11 side -->
<line class="el" x1="528" y1="699" x2="528" y2="733"/><line class="el" x1="568" y1="699" x2="568" y2="804"/><line class="el" x1="560" y1="710" x2="560" y2="770"/>
<line class="dl" x1="528" y1="705" x2="568" y2="705"/><text class="t tc" x="548" y="702">280</text>
<line class="dl" x1="528" y1="715" x2="560" y2="715"/><text class="t tc" x="544" y="713">230</text>
<use href="#gl" transform="translate(533,733) scale(.9,-0.95)"/>
<rect class="o" x="528" y="733" width="24" height="37"/>
<rect class="o" x="528" y="770" width="24" height="70"/><rect class="o1" x="552" y="771" width="8" height="68"/>
<rect class="o1" x="560" y="800" width="4" height="8"/><circle cx="566" cy="804" r="3.5" fill="#fff" stroke="#333"/>
<rect class="o" x="528" y="840" width="24" height="40"/>
<rect class="o1" x="525" y="733" width="4" height="7"/><rect class="o1" x="525" y="770" width="4" height="8"/><rect class="o1" x="525" y="866" width="4" height="8"/>
<use href="#gl" transform="translate(533,880) scale(.9,.9)"/>
<text class="cap" x="426" y="943" textLength="144" lengthAdjust="spacingAndGlyphs">BDZ52-DIP-400DX(XD)(CM1)</text>

<!-- ============ D12 ============ -->
<line class="el" x1="619" y1="691" x2="619" y2="727"/><line class="el" x1="682" y1="691" x2="682" y2="727"/>
<line class="dl" x1="619" y1="697" x2="682" y2="697"/><text class="t tc" x="651" y="694">599</text>
<line class="el" x1="622" y1="702" x2="622" y2="727"/><line class="el" x1="680" y1="702" x2="680" y2="727"/>
<line class="dl" x1="622" y1="707" x2="680" y2="707"/><text class="t tc" x="651" y="705">500</text>
<text class="t" x="690" y="725">8XΦ13</text><line class="el" x1="686" y1="730" x2="691" y2="727"/>
<line class="el" x1="596" y1="709" x2="646" y2="709"/><line class="el" x1="596" y1="893" x2="646" y2="893"/>
<line class="dl" x1="600" y1="709" x2="600" y2="893"/><text class="t tc" transform="translate(598,801) rotate(-90)">1514</text>
<line class="el" x1="604" y1="728" x2="616" y2="728"/><line class="el" x1="604" y1="875" x2="616" y2="875"/>
<line class="dl" x1="607" y1="728" x2="607" y2="875"/><text class="t tc" transform="translate(605,801) rotate(-90)">1156</text>
<line class="el" x1="612" y1="773" x2="616" y2="773"/><line class="el" x1="612" y1="829" x2="616" y2="829"/>
<line class="dl" x1="616" y1="773" x2="616" y2="829"/><text class="t tc" transform="translate(614,801) rotate(-90)">450</text>
<rect class="dsh" x="647" y="712" width="10" height="15"/><rect class="dsh" x="622" y="727" width="60" height="43"/>
<rect class="dsh" x="616" y="727" width="6" height="6"/><rect class="dsh" x="682" y="727" width="6" height="6"/>
<use href="#lb" x="647" y="744"/>
<rect class="o" x="621" y="770" width="62" height="63"/>
<circle cx="650" cy="803" r="26" fill="#fff" stroke="#333" stroke-width="1.1"/><circle cx="650" cy="803" r="24" fill="none" stroke="#888" stroke-width=".5"/>
<g class="bk"><circle cx="630" cy="783" r="1.2"/><circle cx="670" cy="783" r="1.2"/><circle cx="630" cy="823" r="1.2"/><circle cx="670" cy="823" r="1.2"/><circle cx="650" cy="777" r="1.2"/><circle cx="650" cy="829" r="1.2"/><circle cx="624" cy="803" r="1.2"/><circle cx="676" cy="803" r="1.2"/></g>
<text class="sm" x="650" y="788" style="font-size:5.5px">Ex</text>
<use href="#hd" x="643" y="797"/>
<rect class="o" x="622" y="833" width="60" height="44"/>
<g class="bk"><circle cx="622" cy="848" r="1.2"/><circle cx="622" cy="862" r="1.2"/><circle cx="682" cy="848" r="1.2"/><circle cx="682" cy="862" r="1.2"/><circle cx="637" cy="833" r="1.2"/><circle cx="652" cy="833" r="1.2"/><circle cx="667" cy="833" r="1.2"/></g>
<use href="#lb" x="647" y="850"/><rect x="643" y="861" width="17" height="8" fill="#fff" stroke="#999" stroke-width=".8"/>
<use href="#ear" x="615" y="771"/><use href="#ear" x="683" y="771"/><use href="#ear" x="615" y="826"/><use href="#ear" x="683" y="826"/><use href="#ear" x="615" y="870"/><use href="#ear" x="683" y="870"/>
<use href="#gl" x="646" y="877"/>
<!-- D12 side -->
<line class="el" x1="718" y1="692" x2="718" y2="727"/><line class="el" x1="760" y1="692" x2="760" y2="800"/><line class="el" x1="752" y1="702" x2="752" y2="775"/>
<line class="dl" x1="718" y1="698" x2="760" y2="698"/><text class="t tc" x="739" y="695">280</text>
<line class="dl" x1="719" y1="707" x2="752" y2="707"/><text class="t tc" x="736" y="705">230</text>
<rect class="dsh" x="722" y="712" width="12" height="15"/><rect class="dsh" x="718" y="727" width="25" height="43"/>
<rect class="o" x="718" y="770" width="24" height="110"/><line x1="718" y1="832" x2="742" y2="832" stroke="#333"/>
<rect class="o1" x="742" y="775" width="11" height="53"/><rect class="o1" x="753" y="800" width="6" height="9"/>
<rect class="o1" x="716" y="768" width="3" height="8"/><rect class="o1" x="716" y="829" width="3" height="8"/><rect class="o1" x="716" y="870" width="3" height="8"/>
<use href="#gl" transform="translate(723,880) scale(.9,.9)"/>
<text class="cap" x="613" y="927" textLength="127" lengthAdjust="spacingAndGlyphs">BDZ52-DIP-C400XD(CM1)</text>
<text class="cap" x="613" y="943" textLength="150" lengthAdjust="spacingAndGlyphs">BDZ52-DIP-C400XX(DD)(CM1)</text>
</svg>
</body></html>
